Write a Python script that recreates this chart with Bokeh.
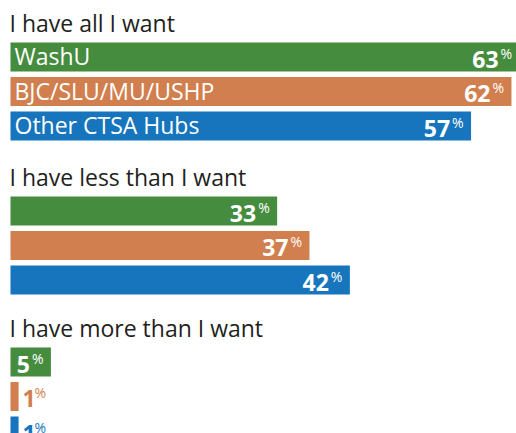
from bokeh.plotting import figure
from bokeh.models import Range1d, ColumnDataSource
from bokeh.core.properties import value
from bokeh.embed import file_html
from bokeh.resources import INLINE

# ---- data ----
groups = ["I have all I want", "I have less than I want", "I have more than I want"]
hubs = ["WashU", "BJC/SLU/MU/USHP", "Other CTSA Hubs"]
washu = [63, 33, 5]
bjc = [62, 37, 1]
other = [57, 42, 1]
series = [washu, bjc, other]
colors = ["#468c3f", "#d17f4e", "#1675bc"]

# ---- layout (pixels) ----
W, H = 516, 433
PX_PER_UNIT = 8.08
LEFT_PAD = 10
SECTION_TOP = [0, 154, 305]
TITLE_MID = 22
BAR_TOP_OFF = 42
ROW_PITCH = 34.5
BAR_H = 29
FONT = "Open Sans"

x0 = -LEFT_PAD / PX_PER_UNIT
p = figure(width=W, height=H, x_range=Range1d(x0, x0 + W / PX_PER_UNIT),
           y_range=Range1d(H, 0), x_axis_type=None, y_axis_type=None,
           output_backend="svg", toolbar_location=None, min_border=0)
p.grid.visible = False
p.outline_line_color = None
p.background_fill_color = "white"
p.border_fill_color = "white"

# titles
p.text(x=[0] * 3, y=[s + TITLE_MID for s in SECTION_TOP], text=groups,
       x_offset=-1, text_font=value(FONT), text_font_size="23px",
       text_color="#231f20", text_baseline="middle", text_align="left")

for j, (vals, col) in enumerate(zip(series, colors)):
    ys = [s + BAR_TOP_OFF + ROW_PITCH * j + BAR_H / 2 for s in SECTION_TOP]
    p.hbar(y=ys, left=0, right=vals, height=BAR_H, fill_color=col, line_color=None)

    inside = [v >= 3 for v in vals]
    src_in = ColumnDataSource(dict(
        x=[v for v, k in zip(vals, inside) if k],
        y=[y for y, k in zip(ys, inside) if k],
        t=[str(v) for v, k in zip(vals, inside) if k]))
    src_out = ColumnDataSource(dict(
        x=[v for v, k in zip(vals, inside) if not k],
        y=[y for y, k in zip(ys, inside) if not k],
        t=[str(v) for v, k in zip(vals, inside) if not k]))

    # numbers inside the bar
    p.text(x="x", y="y", text="t", source=src_in, x_offset=-21, y_offset=2,
           text_font=value(FONT), text_font_style="bold", text_font_size="23px",
           text_color="white", text_align="right", text_baseline="middle")
    p.text(x="x", y="y", text=value("%"), source=src_in, x_offset=-19, y_offset=-4,
           text_font=value(FONT), text_font_size="14px",
           text_color="white", text_align="left", text_baseline="middle")
    # numbers outside the bar
    p.text(x="x", y="y", text="t", source=src_out, x_offset=4, y_offset=2,
           text_font=value(FONT), text_font_style="bold", text_font_size="23px",
           text_color=col, text_align="left", text_baseline="middle")
    p.text(x="x", y="y", text=value("%"), source=src_out, x_offset=16, y_offset=-4,
           text_font=value(FONT), text_font_size="14px",
           text_color=col, text_align="left", text_baseline="middle")

    # hub name inside first section bars
    p.text(x=[0], y=[ys[0]], text=[hubs[j]], x_offset=4, y_offset=-1,
           text_font=value(FONT), text_font_size="23px", text_color="white",
           text_align="left", text_baseline="middle")

open("out.html", "w").write(file_html(p, INLINE))
